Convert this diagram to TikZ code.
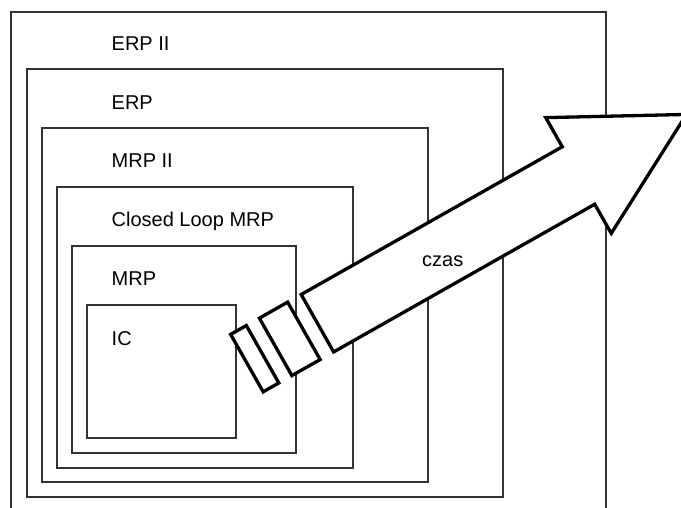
\documentclass[tikz,border=0pt]{standalone}
\usepackage{fontspec}
\setmainfont{Liberation Sans}
\begin{document}
\begin{tikzpicture}[x=1pt,y=-1pt,
  layerbox/.style={draw=black!80,line width=1.6pt},
  layerlabel/.style={anchor=base west,inner sep=0pt,font=\fontsize{20}{24}\selectfont},
  arrowpart/.style={draw=black,fill=white,line width=3.3pt,line join=miter}]
\useasboundingbox (0,0) rectangle (681,508);
\clip (0,0) rectangle (681,508);
% nested boxes
\draw[layerbox] (11,12) rectangle (606,530);
\draw[layerbox] (27,69) rectangle (503,497);
\draw[layerbox] (42,128) rectangle (428,482);
\draw[layerbox] (57,187) rectangle (353,468);
\draw[layerbox] (72,246) rectangle (296,453);
\draw[layerbox] (87,305) rectangle (236,438);
% labels
\node[layerlabel] (erp2) at (111.5,51) {ERP II};
\node[layerlabel] (erp) at (111.5,110) {ERP};
\node[layerlabel] (mrp2) at (111.5,168) {MRP II};
\node[layerlabel] (clmrp) at (111.5,227) {Closed Loop MRP};
\node[layerlabel] (mrp) at (111.5,286) {MRP};
\node[layerlabel] (ic) at (111.5,345) {IC};
% time arrow
\begin{scope}[shift={(578.5,175.5)},rotate=29.5]
  \draw[arrowpart] (-300,-33) -- (0,-33) -- (0,-66.5) -- (124,0) -- (0,66.5) -- (0,33) -- (-300,33) -- cycle;
  \draw[arrowpart] (-348,-33) rectangle (-315.5,33);
  \draw[arrowpart] (-381,-33) rectangle (-363,33);
\end{scope}
\node[layerlabel] (czas) at (422,266) {czas};
\end{tikzpicture}
\end{document}
